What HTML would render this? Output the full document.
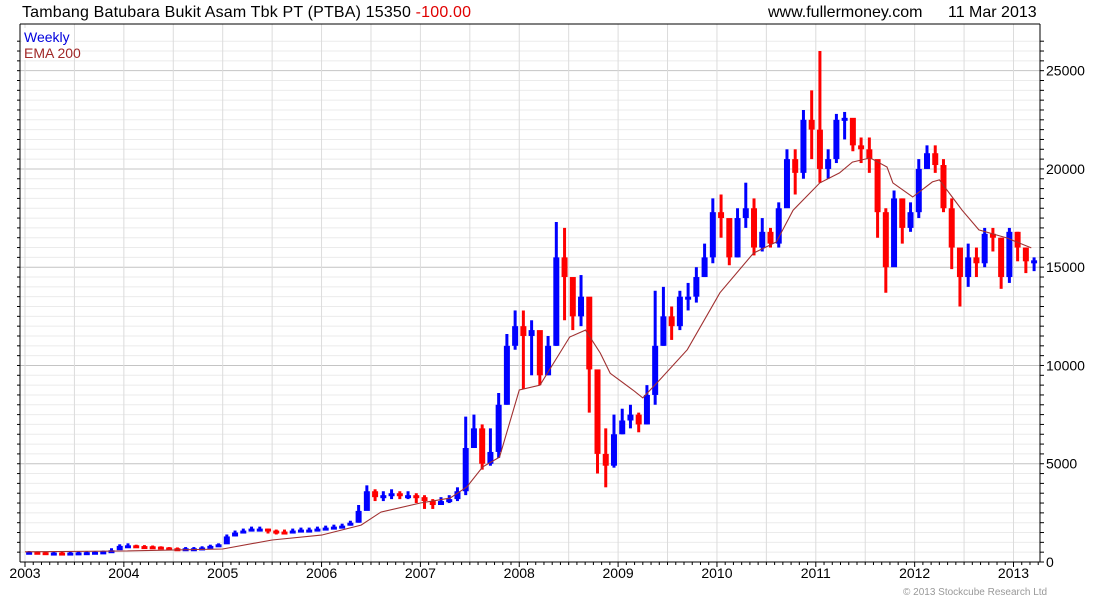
<!DOCTYPE html>
<html><head><meta charset="utf-8">
<style>
body{margin:0;background:#fff;width:1100px;height:600px;overflow:hidden;font-family:"Liberation Sans",sans-serif;}
svg text{font-family:"Liberation Sans",sans-serif;}
</style></head>
<body>
<svg id="chart" width="1100" height="600" xmlns="http://www.w3.org/2000/svg">
<g id="grid"></g>
<g id="bars"></g>
<polyline id="ema" fill="none" stroke="#a03030" stroke-width="1.1"/>
<g id="axes"></g>
<text x="22" y="17" font-size="16" fill="#000" textLength="449">Tambang Batubara Bukit Asam Tbk PT (PTBA) 15350 <tspan fill="#e00000">-100.00</tspan></text>
<text x="768" y="17" font-size="16" fill="#000">www.fullermoney.com</text>
<text x="948" y="17" font-size="16" fill="#000">11 Mar 2013</text>
<rect x="22" y="28" width="52" height="32" fill="#fff"/>
<text x="24" y="42" font-size="14" fill="#0000dd">Weekly</text>
<text x="24" y="58" font-size="14" fill="#a02828">EMA 200</text>
<text x="903" y="595" font-size="10" fill="#999">© 2013 Stockcube Research Ltd</text>
</svg>
<script>
const closes=[520,500,480,480,470,480,490,500,520,540,600,820,
850,810,800,780,740,700,690,700,700,740,820,900,
1300,1500,1600,1700,1700,1600,1550,1500,1600,1650,1650,1700,
1750,1800,1850,2000,2600,3600,3300,3400,3500,3400,3400,3300,
3100,2900,3100,3200,3600,5800,6800,5000,5600,8000,11000,12000,
11500,11800,9500,11000,15500,14500,12500,13500,9800,5500,4900,6500,
7200,7500,7000,8500,11000,12500,12000,13500,13500,14500,15500,17800,
17500,15500,17500,18000,16000,16800,16200,18000,20500,19800,22500,22000,
20000,20500,22500,22600,21200,21000,20500,17800,15000,18500,17000,17800,
20000,20800,20200,18000,16000,14500,15500,15200,16700,16500,14500,16800,
16000,15300,15350];
const highs=[560,540,520,520,510,520,530,540,560,580,700,900,
950,880,860,840,800,760,740,760,760,800,880,950,
1400,1600,1700,1800,1800,1700,1650,1650,1700,1750,1750,1800,
1850,1900,1950,2100,2900,3900,3700,3600,3700,3600,3600,3500,
3400,3200,3300,3400,3800,7400,7500,7000,6800,8600,11600,12800,
12800,12300,10600,11500,17300,17000,14200,14600,12000,9200,6800,7500,
7800,8000,7600,9000,13800,14000,13000,13800,14200,15000,16200,18500,
18700,17000,18000,19300,18500,17500,17000,18300,21000,21000,23000,24000,
26000,21000,22800,22900,21800,21600,21600,20000,18000,18900,18500,18300,
20500,21200,21200,20500,18500,15200,16200,16000,17000,17000,16500,17000,
16800,16000,15500];
const lows=[480,460,440,440,430,440,450,460,470,490,520,700,
780,760,740,720,680,660,650,660,660,680,720,820,
1200,1300,1450,1550,1550,1450,1400,1400,1450,1500,1550,1550,
1650,1700,1750,1850,2000,2900,3100,3100,3200,3200,3200,3000,
2700,2700,2900,3000,3100,3400,6000,4700,4900,5300,8000,10800,
8800,9500,9000,9500,11000,12300,11800,12000,7600,4500,3800,4800,
6500,6800,6600,7000,8000,11000,11300,11800,12800,13200,14500,15200,
16500,15100,15500,17000,15600,15800,16000,16000,18500,18700,19500,20500,
19300,19500,20300,21500,20900,20300,19800,16500,13700,15500,16200,16800,
17500,20000,19800,17800,14900,13000,14000,14500,15000,15800,13900,14200,
15300,14700,14800];
const emaDates=[2003.0,2004.0,2005.0,2005.5,2006.0,2006.4,2006.6,2007.0,2007.3,2007.47,2007.63,2007.8,2008.0,2008.21,2008.51,2008.67,2008.82,2008.92,2009.15,2009.25,2009.42,2009.7,2010.03,2010.37,2010.6,2010.77,2011.04,2011.24,2011.37,2011.55,2011.72,2011.78,2011.98,2012.18,2012.25,2012.38,2012.48,2012.65,2012.93,2013.18];
const emaVals=[520,560,660,1120,1370,1880,2540,3000,3250,3820,4840,5340,8750,9000,11450,11800,10630,9600,8750,8350,9260,10800,13700,15720,16280,17900,19290,19800,20350,20560,20100,19290,18570,19340,19440,18570,17900,16900,16490,15980];
const yTicks=[0,5000,10000,15000,20000,25000];
const yearLabels=["2003","2004","2005","2006","2007","2008","2009","2010","2011","2012","2013"];

const NS="http://www.w3.org/2000/svg";
const X0=25,PXY=98.85,L=20,R=1040,T=24,B=562;
const xs=t=>X0+(t-2003)*PXY;
const ys=v=>B-v*0.019653;
function mk(tag,attrs,parent){const e=document.createElementNS(NS,tag);for(const k in attrs)e.setAttribute(k,attrs[k]);parent.appendChild(e);return e;}
const grid=document.getElementById('grid'),axes=document.getElementById('axes'),bars=document.getElementById('bars');
for(let v=500;v<=26500;v+=500){const y=ys(v);if(y<T)break;
 const l=mk('line',{x1:L,x2:R,y1:y,y2:y,stroke:v%5000===0?'#c4c4c4':'#ebebeb','stroke-width':1},grid);
 
 }
for(let t=2003;t<=2013.3;t+=0.5){const x=xs(t);if(x>R)break;
 const l=mk('line',{x1:x,x2:x,y1:T,y2:B,stroke:'#dcdcdc','stroke-width':1},grid);
 
 }
const w=6;
for(let i=0;i<closes.length;i++){
 const open=i?closes[i-1]:closes[0];
 const xc=xs(2003+(i+0.5)/12);
 const col=closes[i]>=open?'#0000ff':'#ff0000';
 const wk=mk('line',{x1:xc,x2:xc,y1:ys(highs[i]),y2:ys(lows[i]),stroke:col,'stroke-width':3},bars);
 
 
 const top=ys(Math.max(open,closes[i])),bot=ys(Math.min(open,closes[i]));
 const r=mk('rect',{x:xc-w/2,y:top,width:w,height:Math.max(3,bot-top),fill:col},bars);
 
 
}
document.getElementById('ema').setAttribute('points',emaDates.map((d,i)=>xs(d).toFixed(1)+','+ys(emaVals[i]).toFixed(1)).join(' '));
mk('line',{x1:L,x2:R,y1:T,y2:T,stroke:'#000'},axes);
mk('line',{x1:L,x2:L,y1:T,y2:B,stroke:'#000'},axes);
mk('line',{x1:R,x2:R,y1:T,y2:B,stroke:'#000'},axes);
mk('line',{x1:L,x2:R,y1:B,y2:B,stroke:'#000'},axes);
for(let v=0;v<=26500;v+=500){const y=ys(v);if(y<T)break;mk('line',{x1:R,x2:R+4,y1:y,y2:y,stroke:'#000'},axes);}
for(let v=500;v<=26500;v+=500){const y=ys(v);if(y<T)break;mk('line',{x1:L-3,x2:L,y1:y,y2:y,stroke:'#000'},axes);}
yTicks.forEach(v=>{const t=mk('text',{x:R+6,y:ys(v)+5,'font-size':14,fill:'#000'},axes);t.textContent=v;
 
 });
for(let m=0;m<=123;m++){const x=xs(2003+m/12);if(x>R)break;mk('line',{x1:x,x2:x,y1:B,y2:B+(m%12===0?5:3),stroke:'#000'},axes);}
yearLabels.forEach((s,i)=>{const t=mk('text',{x:xs(2003+i),y:B+16,'font-size':14,'text-anchor':'middle',fill:'#000'},axes);t.textContent=s;
 
 });
</script>
</body></html>
